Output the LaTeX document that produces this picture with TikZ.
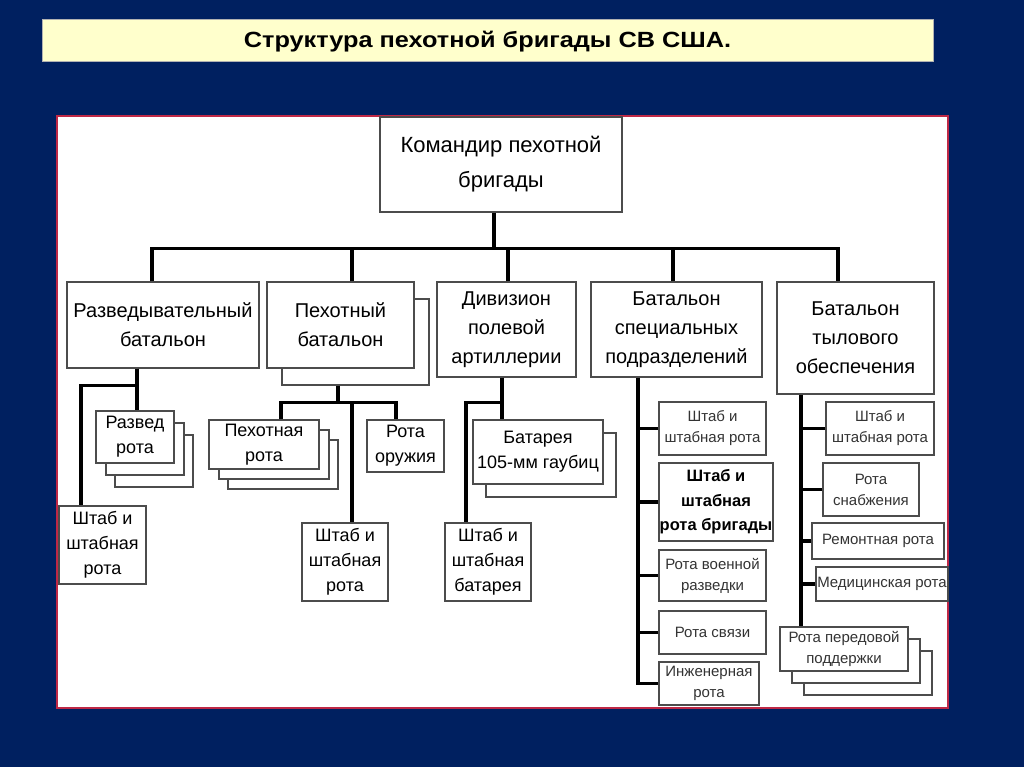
\documentclass[tikz,border=0pt]{standalone}
\usepackage{fontspec}
\setmainfont{Liberation Sans}
\newfontfamily\titlefont[FakeStretch=1.15]{Liberation Sans}
\usetikzlibrary{positioning,shadows}
\definecolor{navybg}{RGB}{0,32,96}
\definecolor{titlefill}{RGB}{255,255,204}
\definecolor{panelred}{RGB}{190,40,70}

\begin{document}
\begin{tikzpicture}[x=1pt, y=-1pt,
	unitbox/.style={rectangle, draw=black!70, fill=white, line width=1.1pt, inner sep=0pt, align=center},
	headnode/.style={unitbox, font=\fontsize{22}{35}\selectfont},
	battnode/.style={unitbox, font=\fontsize{20}{29}\selectfont},
	compnode/.style={unitbox, font=\fontsize{18}{25}\selectfont},
	smallnode/.style={unitbox, text=black!80, font=\fontsize{15}{21}\selectfont},
	backcopy/.style 2 args={copy shadow={shadow xshift=#1, shadow yshift=#2, draw=black!70}},
	conn/.style={line width=3.6pt}
	]
	%Background
	\fill[navybg] (0,0) rectangle (1024,767);
	\node[unitbox, fill=titlefill, draw=black!30, line width=0.8pt, minimum width=891pt, minimum height=42pt,
		text height=15pt, text depth=0pt,
		font=\titlefont\bfseries\fontsize{22}{24}\selectfont] (title) at (487.5,40) {Структура пехотной бригады СВ США.};
	\node[draw=panelred, fill=white, line width=1.2pt, minimum width=891pt, minimum height=592pt, inner sep=0pt] (panel) at (502.5,412) {};
	%Nodes
	\node[headnode, minimum width=242pt, minimum height=95pt] (cmd) at (501,164.5) {Командир пехотной\\бригады};
	\node[battnode, minimum width=192pt, minimum height=86pt] (razved) at (163,325) {Разведывательный\\батальон};
	\node[battnode, minimum width=147pt, minimum height=86pt, backcopy={15pt}{-17pt}] (pekh) at (340.5,325) {Пехотный\\батальон};
	\node[battnode, minimum width=139pt, minimum height=95pt] (div) at (506.5,329.5) {Дивизион\\полевой\\артиллерии};
	\node[battnode, minimum width=171pt, minimum height=95pt] (spec) at (676.5,329.5) {Батальон\\специальных\\подразделений};
	\node[battnode, minimum width=157pt, minimum height=112pt] (tyl) at (855.5,338) {Батальон\\тылового\\обеспечения};
	% 
	\node[compnode, minimum width=78pt, minimum height=52pt, backcopy={19pt}{-24pt}, backcopy={10pt}{-12pt}] (rrota) at (135,437) {Развед\\рота};
	\node[compnode, minimum width=87pt, minimum height=78pt] (shtab1) at (102.5,545) {Штаб и\\штабная\\рота};
	\node[compnode, minimum width=110pt, minimum height=49pt, backcopy={19pt}{-20pt}, backcopy={10pt}{-10pt}] (prota) at (264,444.5) {Пехотная\\рота};
	\node[compnode, minimum width=77pt, minimum height=52pt] (oruzh) at (405.5,446) {Рота\\оружия};
	\node[compnode, minimum width=86pt, minimum height=78pt] (shtab2) at (345,562) {Штаб и\\штабная\\рота};
	\node[compnode, minimum width=130pt, minimum height=64pt, backcopy={13pt}{-13pt}] (bat) at (538,452) {Батарея\\105-мм гаубиц};
	\node[compnode, minimum width=86pt, minimum height=78pt] (shtab3) at (488,562) {Штаб и\\штабная\\батарея};
	%
	\node[smallnode, minimum width=107pt, minimum height=53pt] (s1) at (712.5,428.5) {Штаб и\\штабная рота};
	\node[unitbox, font=\bfseries\fontsize{16.5}{24.5}\selectfont, minimum width=114pt, minimum height=78pt] (s2) at (716,502) {Штаб и\\штабная\\рота бригады};
	\node[smallnode, minimum width=107pt, minimum height=51pt] (s3) at (712.5,575.5) {Рота военной\\разведки};
	\node[smallnode, minimum width=107pt, minimum height=43pt] (s4) at (712.5,632.5) {Рота связи};
	\node[smallnode, minimum width=100pt, minimum height=43pt] (s5) at (709,683.5) {Инженерная\\рота};
	%
	\node[smallnode, minimum width=108pt, minimum height=53pt] (t1) at (880,428.5) {Штаб и\\штабная рота};
	\node[smallnode, minimum width=96pt, minimum height=53pt] (t2) at (871,489.5) {Рота\\снабжения};
	\node[smallnode, minimum width=132pt, minimum height=36pt] (t3) at (878,541) {Ремонтная рота};
	\node[smallnode, minimum width=132pt, minimum height=34pt] (t4) at (882,584) {Медицинская рота};
	\node[smallnode, minimum width=128pt, minimum height=44pt, backcopy={24pt}{-24pt}, backcopy={12pt}{-12pt}] (t5) at (844,649) {Рота передовой\\поддержки};
	%Lines
	\draw[conn] ([xshift=-7pt]cmd.south) -- ++(0,36) coordinate (bus);
	\draw[conn] ([xshift=-11pt]razved.north) |- (bus) -| ([xshift=-17.5pt]tyl.north);
	\foreach \unit/\dx in {pekh/11.5, div/1.5, spec/-3.5}
		\draw[conn] ([xshift=\dx pt]\unit.north) -- ([xshift=\dx pt]\unit.north |- bus);
	% reconnaissance
	\draw[conn] ([xshift=-26pt]razved.south) -- ([xshift=2pt]rrota.north);
	\draw[conn] ([xshift=-26pt]razved.south) -- ++(0,17) -| ([xshift=-21.5pt]shtab1.north);
	% infantry
	\draw[conn] ([shift={(-2.5pt,-17pt)}]pekh.south) -- ++(0,17) coordinate (pbus);
	\draw[conn] ([xshift=17pt]prota.north) |- ([xshift=-9.5pt]oruzh.north |- pbus) -- ([xshift=-9.5pt]oruzh.north);
	\draw[conn] ([xshift=7pt]shtab2.north) -- ([xshift=7pt]shtab2.north |- pbus);
	% artillery
	\draw[conn] ([xshift=-4.5pt]div.south) -- ([xshift=-36pt]bat.north);
	\draw[conn] ([xshift=-4.5pt]div.south) -- ++(0,25) -| ([xshift=-22pt]shtab3.north);
	% special troops
	\draw[conn] ([xshift=-38.5pt]spec.south) coordinate (sline) |- (s5.west);
	\foreach \n in {s1,s2,s3,s4}
		\draw[conn] (\n.west) -- (\n.west -| sline);
	% support
	\draw[conn] ([xshift=-54.5pt]tyl.south) coordinate (tline) -- ([xshift=-43pt]t5.north);
	\foreach \n in {t1,t2,t3,t4}
		\draw[conn] (\n.west) -- (\n.west -| tline);
\end{tikzpicture}
\end{document}
